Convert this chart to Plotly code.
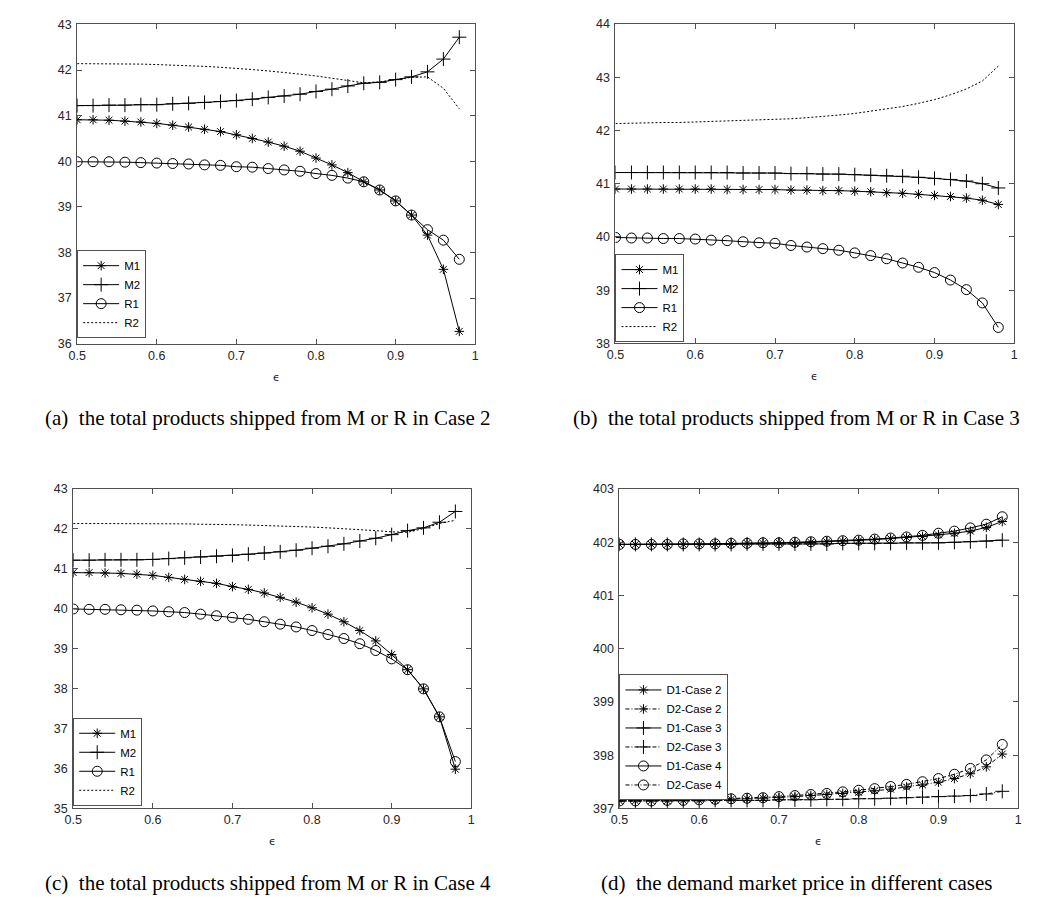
import plotly.graph_objects as go

W, H = 1064, 900

eps = [0.50, 0.52, 0.54, 0.56, 0.58, 0.60, 0.62, 0.64, 0.66, 0.68, 0.70, 0.72, 0.74,
       0.76, 0.78, 0.80, 0.82, 0.84, 0.86, 0.88, 0.90, 0.92, 0.94, 0.96, 0.98]

# (a) Case 2
a_M1 = [40.91, 40.91, 40.90, 40.88, 40.86, 40.83, 40.79, 40.75, 40.70, 40.65, 40.58, 40.50, 40.42,
        40.33, 40.22, 40.07, 39.92, 39.75, 39.55, 39.37, 39.13, 38.82, 38.38, 37.63, 36.27]
a_M2 = [41.22, 41.22, 41.23, 41.23, 41.24, 41.24, 41.26, 41.27, 41.29, 41.31, 41.33, 41.36, 41.40,
        41.43, 41.47, 41.53, 41.58, 41.65, 41.71, 41.73, 41.79, 41.85, 41.96, 42.24, 42.72]
a_R1 = [39.99, 39.99, 39.99, 39.98, 39.97, 39.96, 39.95, 39.94, 39.92, 39.91, 39.88, 39.87, 39.84,
        39.81, 39.78, 39.73, 39.69, 39.63, 39.55, 39.37, 39.13, 38.82, 38.50, 38.27, 37.85]
a_R2 = [42.14, 42.14, 42.14, 42.13, 42.13, 42.12, 42.11, 42.10, 42.08, 42.06, 42.04, 42.01, 41.98,
        41.95, 41.91, 41.87, 41.82, 41.77, 41.72, 41.74, 41.79, 41.84, 41.85, 41.60, 41.15]

# (b) Case 3
b_M1 = [40.90, 40.90, 40.90, 40.90, 40.90, 40.90, 40.90, 40.89, 40.89, 40.89, 40.89, 40.88, 40.88,
        40.87, 40.87, 40.86, 40.85, 40.83, 40.82, 40.80, 40.78, 40.76, 40.73, 40.69, 40.61]
b_M2 = [41.21, 41.21, 41.21, 41.21, 41.21, 41.21, 41.21, 41.21, 41.20, 41.20, 41.20, 41.19, 41.19,
        41.18, 41.18, 41.17, 41.16, 41.15, 41.14, 41.12, 41.10, 41.08, 41.05, 41.00, 40.92]
b_R1 = [39.99, 39.98, 39.98, 39.97, 39.97, 39.96, 39.94, 39.93, 39.91, 39.89, 39.88, 39.84, 39.81,
        39.78, 39.75, 39.70, 39.65, 39.59, 39.51, 39.43, 39.33, 39.19, 39.01, 38.76, 38.30]
b_R2 = [42.13, 42.14, 42.14, 42.15, 42.15, 42.16, 42.17, 42.17, 42.18, 42.19, 42.20, 42.22, 42.24,
        42.26, 42.29, 42.32, 42.36, 42.40, 42.45, 42.51, 42.58, 42.67, 42.78, 42.93, 43.21]

# (c) Case 4
c_M1 = [40.90, 40.90, 40.89, 40.88, 40.86, 40.83, 40.78, 40.73, 40.68, 40.63, 40.55, 40.48, 40.39,
        40.28, 40.16, 40.02, 39.86, 39.67, 39.45, 39.19, 38.85, 38.47, 37.99, 37.29, 35.98]
c_M2 = [41.21, 41.21, 41.22, 41.22, 41.22, 41.23, 41.25, 41.27, 41.29, 41.31, 41.33, 41.36, 41.39,
        41.42, 41.46, 41.51, 41.56, 41.62, 41.69, 41.76, 41.85, 41.95, 42.02, 42.16, 42.43]
c_R1 = [39.99, 39.98, 39.98, 39.97, 39.96, 39.94, 39.92, 39.90, 39.86, 39.82, 39.78, 39.73, 39.67,
        39.61, 39.54, 39.45, 39.35, 39.25, 39.12, 38.95, 38.74, 38.47, 37.99, 37.29, 36.17]
c_R2 = [42.13, 42.13, 42.13, 42.13, 42.13, 42.12, 42.12, 42.12, 42.11, 42.11, 42.10, 42.09, 42.08,
        42.07, 42.06, 42.04, 42.02, 42.00, 41.98, 41.95, 41.92, 41.91, 42.00, 42.13, 42.21]

# (d) demand market price
d_D1_c2 = [401.96, 401.96, 401.96, 401.96, 401.96, 401.96, 401.97, 401.97, 401.98, 401.98, 401.99, 401.99, 402.00,
           402.01, 402.02, 402.03, 402.05, 402.07, 402.09, 402.11, 402.14, 402.17, 402.21, 402.28, 402.39]
d_D2_c2 = [397.14, 397.14, 397.14, 397.14, 397.15, 397.15, 397.16, 397.17, 397.18, 397.19, 397.20, 397.22, 397.24,
           397.26, 397.28, 397.30, 397.33, 397.36, 397.40, 397.44, 397.49, 397.56, 397.65, 397.78, 398.02]
d_D1_c3 = [401.96, 401.96, 401.96, 401.96, 401.96, 401.96, 401.96, 401.96, 401.97, 401.97, 401.97, 401.97, 401.97,
           401.97, 401.98, 401.98, 401.98, 401.98, 401.99, 401.99, 401.99, 402.00, 402.01, 402.02, 402.04]
d_D2_c3 = [397.14, 397.14, 397.14, 397.14, 397.14, 397.14, 397.15, 397.15, 397.15, 397.15, 397.16, 397.16, 397.16,
           397.17, 397.17, 397.18, 397.18, 397.19, 397.20, 397.21, 397.22, 397.23, 397.24, 397.27, 397.32]
d_D1_c4 = [401.96, 401.96, 401.96, 401.96, 401.97, 401.97, 401.97, 401.98, 401.98, 401.99, 401.99, 402.00, 402.01,
           402.02, 402.03, 402.04, 402.06, 402.08, 402.10, 402.13, 402.17, 402.21, 402.27, 402.34, 402.48]
d_D2_c4 = [397.14, 397.14, 397.14, 397.15, 397.15, 397.16, 397.17, 397.18, 397.19, 397.20, 397.22, 397.24, 397.26,
           397.28, 397.31, 397.34, 397.37, 397.41, 397.45, 397.50, 397.56, 397.64, 397.75, 397.91, 398.20]

x_ticks = [0.5, 0.6, 0.7, 0.8, 0.9, 1.0]
x_tick_text = ["0.5", "0.6", "0.7", "0.8", "0.9", "1"]
y_ranges = [[36, 43], [38, 44], [35, 43], [397, 403]]
captions = ["(a)\u00a0 the total products shipped from M or R in Case 2",
            "(b)\u00a0 the total products shipped from M or R in Case 3",
            "(c)\u00a0 the total products shipped from M or R in Case 4",
            "(d)\u00a0 the demand market price in different cases"]
legend_names_mr = ["M1", "M2", "R1", "R2"]
legend_names_d = ["D1-Case 2", "D2-Case 2", "D1-Case 3", "D2-Case 3", "D1-Case 4", "D2-Case 4"]

# panel pixel boxes (left, right, top, bottom)
boxes = [(69, 472, 17.7, 342), (614, 1017.7, 17.3, 341.7),
         (65, 468, 489.3, 814), (618, 1021.7, 489.7, 814)]
legend_pos = [(69, 247), (614, 251), (65, 722), (618, 678)]
caption_pos = [(262, 418), (797, 418), (262, 890), (797, 890)]

AX = "#505050"
TXT = "#262626"
FONT = "Liberation Sans, Arial, sans-serif"

fig = go.Figure()

sym = {"*": "asterisk-open", "+": "cross-thin-open", "o": "circle-open", "": None}
msize = {"*": 8, "+": 10, "o": 10}


def add(panel, y, name, marker, dash="solid"):
    suffix = "" if panel == 0 else str(panel + 1)
    mode = "lines+markers" if marker else "lines"
    kw = dict(x=eps, y=y, name=name, mode=mode,
              xaxis="x" + suffix, yaxis="y" + suffix,
              legend="legend" + suffix,
              line=dict(color="black", width=1, dash=dash))
    if marker:
        kw["marker"] = dict(symbol=sym[marker], size=msize[marker], color="black",
                            line=dict(color="black", width=1))
    fig.add_trace(go.Scatter(**kw))


panels_mr = [(a_M1, a_M2, a_R1, a_R2), (b_M1, b_M2, b_R1, b_R2), (c_M1, c_M2, c_R1, c_R2)]
for p, (m1, m2, r1, r2) in enumerate(panels_mr):
    add(p, m1, legend_names_mr[0], "*")
    add(p, m2, legend_names_mr[1], "+")
    add(p, r1, legend_names_mr[2], "o")
    add(p, r2, legend_names_mr[3], "", "2px,2px")

dd = "4px,2px,1px,2px"
add(3, d_D1_c2, legend_names_d[0], "*")
add(3, d_D2_c2, legend_names_d[1], "*", dd)
add(3, d_D1_c3, legend_names_d[2], "+")
add(3, d_D2_c3, legend_names_d[3], "+", dd)
add(3, d_D1_c4, legend_names_d[4], "o")
add(3, d_D2_c4, legend_names_d[5], "o", dd)

layout = dict(width=W, height=H, margin=dict(l=0, r=0, t=0, b=0),
              paper_bgcolor="white", plot_bgcolor="white", showlegend=True,
              font=dict(family=FONT, size=12, color=TXT))

annotations = []
for i, (l, r, t, b) in enumerate(boxes):
    suffix = "" if i == 0 else str(i + 1)
    layout["xaxis" + suffix] = dict(
        domain=[l / W, r / W], anchor="y" + suffix, range=[0.5, 1],
        tickvals=x_ticks, ticktext=x_tick_text, ticks="inside", ticklen=5,
        tickcolor=AX, linecolor=AX, linewidth=1, mirror="ticks", showgrid=False,
        zeroline=False, showline=True, tickfont=dict(size=12.5, color=TXT, family=FONT))
    layout["yaxis" + suffix] = dict(
        domain=[1 - b / H, 1 - t / H], anchor="x" + suffix, range=y_ranges[i],
        dtick=1, ticks="inside", ticklen=5, ticklabelstandoff=2,
        tickcolor=AX, linecolor=AX, linewidth=1, mirror="ticks", showgrid=False,
        zeroline=False, showline=True, tickfont=dict(size=12.5, color=TXT, family=FONT))
    lx, ly = legend_pos[i]
    layout["legend" + suffix] = dict(
        x=lx / W, y=1 - ly / H, xanchor="left", yanchor="top",
        bgcolor="white", bordercolor=AX, borderwidth=1,
        font=dict(size=11.5, color="black", family=FONT), itemwidth=36,
        tracegroupgap=0)
    annotations.append(dict(text="\u03f5", x=(l + r) / 2 / W, y=1 - (b + 34) / H,
                            xref="paper", yref="paper", showarrow=False,
                            xanchor="center", yanchor="middle",
                            font=dict(size=11, color=TXT, family="DejaVu Sans")))
    cx, cy = caption_pos[i]
    annotations.append(dict(text=captions[i], x=cx / W, y=1 - cy / H,
                            xref="paper", yref="paper", showarrow=False,
                            xanchor="center", yanchor="middle",
                            font=dict(size=21, color="black",
                                      family="Liberation Serif, Times New Roman, serif")))
layout["annotations"] = annotations
fig.update_layout(**layout)

fig.write_html("out.html")
